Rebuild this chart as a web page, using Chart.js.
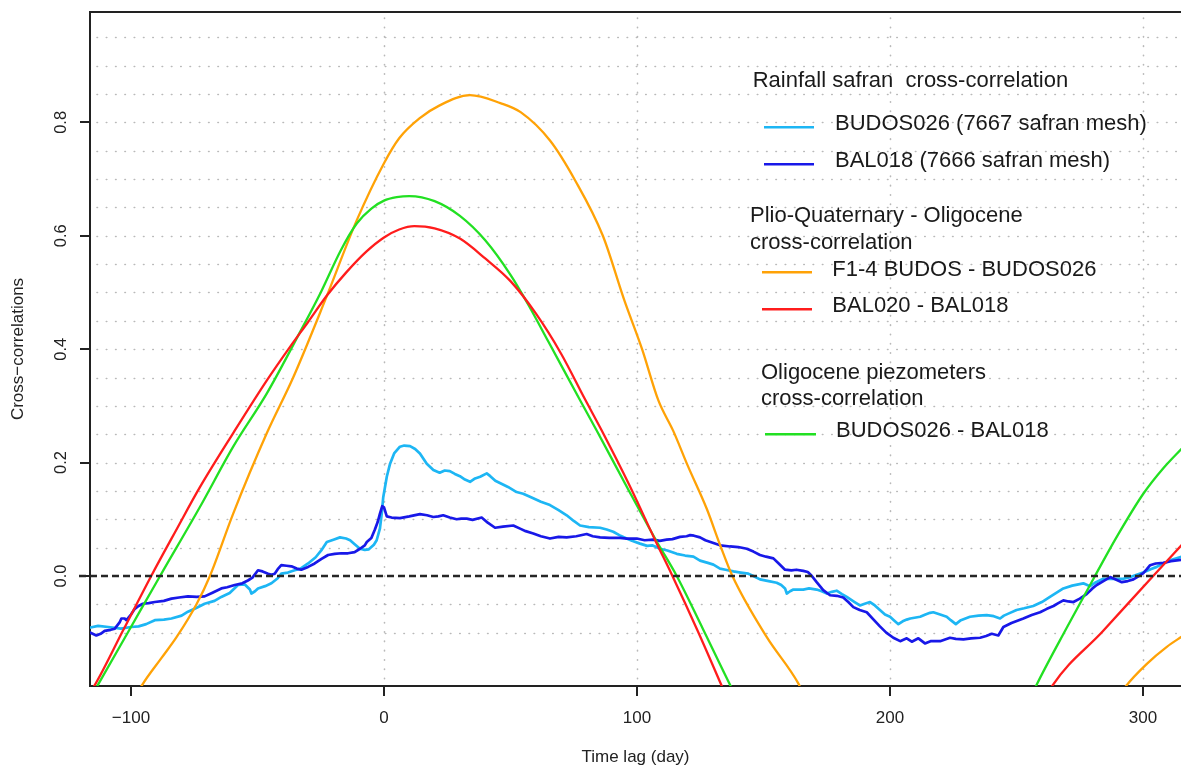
<!DOCTYPE html>
<html><head><meta charset="utf-8">
<script src="https://cdn.jsdelivr.net/npm/chart.js@4/dist/chart.umd.min.js"></script>
<style>html,body{margin:0;padding:0;background:#fff;}#wrap{width:1181px;height:769px;}</style>
</head><body><div id="wrap"><canvas id="c" width="1181" height="769"></canvas></div>
<script>
// ---------- data ----------
const xTicks = [-100, 0, 100, 200, 300];
const yTicks = [0, 0.2, 0.4, 0.6, 0.8];
const gridX = [0, 100, 200, 300];
const gridY = [-0.1, -0.05, 0.05, 0.1, 0.15, 0.2, 0.25, 0.3, 0.35, 0.4, 0.45, 0.5, 0.55, 0.6, 0.65, 0.7, 0.75, 0.8, 0.85, 0.9, 0.95];

const budosRainLag = [-116,-113,-109,-104,-100,-97,-94,-90.6,-87,-84,-80,-77.5,-74,-70.9,-67,-64.3,-61,-57.7,-55,-53,-52.4,-51,-49.8,-47,-44.5,-42,-40.6,-38,-35.3,-33,-30,-27,-24.8,-22.6,-20,-17.4,-15,-13.4,-11.6,-9.5,-7.6,-6,-4,-2.9,-1.6,-0.9,-0.3,1.1,2.4,4,6.3,8,10.3,12.3,14.2,16.9,19.5,22,24,26,28,30,32,34,36,38,40.6,42,44,45.8,49,52.4,55,59,62,65.6,69,72.2,75,77.5,81,85.4,88,90.6,93,95.9,98,101.2,104,106,109.1,112,115.7,119,122.3,124.9,128,130.2,132.8,135,138.1,141,144,146,148.6,152,155.2,157,158.5,159.2,160.5,161.8,165.7,168,171,173,175,177,178.9,181,182.9,186,188.1,190,192.1,194,196,198,200,201.5,203.3,205,206.6,208,211.9,214,215.8,217.1,219.8,222.4,224,226,228,231.6,235,238.2,241,243.5,245,247,250,253,256.6,260,263.2,266,268.5,272,276.4,279,281,284.3,288,292.2,295,297.5,300,303,305.4,308,311,316];
const budosRainVal = [-0.091,-0.088,-0.09,-0.093,-0.09,-0.089,-0.085,-0.078,-0.077,-0.075,-0.07,-0.063,-0.056,-0.049,-0.044,-0.037,-0.03,-0.016,-0.015,-0.024,-0.031,-0.027,-0.022,-0.018,-0.013,-0.004,0.004,0.006,0.01,0.013,0.022,0.033,0.045,0.06,0.064,0.068,0.066,0.063,0.056,0.048,0.046,0.047,0.055,0.063,0.084,0.11,0.139,0.175,0.198,0.216,0.228,0.23,0.229,0.224,0.216,0.198,0.187,0.182,0.186,0.185,0.18,0.176,0.17,0.166,0.172,0.175,0.181,0.176,0.168,0.164,0.157,0.148,0.145,0.137,0.131,0.125,0.116,0.107,0.097,0.089,0.086,0.085,0.082,0.078,0.072,0.066,0.062,0.057,0.053,0.054,0.048,0.045,0.039,0.036,0.034,0.027,0.023,0.02,0.013,0.011,0.008,0.006,0.004,0.0,-0.006,-0.009,-0.012,-0.016,-0.022,-0.031,-0.027,-0.024,-0.024,-0.022,-0.024,-0.027,-0.031,-0.028,-0.026,-0.032,-0.037,-0.046,-0.052,-0.049,-0.046,-0.052,-0.06,-0.068,-0.072,-0.078,-0.085,-0.08,-0.077,-0.075,-0.072,-0.068,-0.065,-0.064,-0.068,-0.072,-0.078,-0.085,-0.078,-0.072,-0.07,-0.069,-0.071,-0.075,-0.07,-0.066,-0.06,-0.057,-0.053,-0.046,-0.037,-0.029,-0.022,-0.017,-0.013,-0.018,-0.012,-0.005,-0.005,-0.005,-0.002,0.002,0.006,0.012,0.016,0.022,0.028,0.035];

const balRainLag = [-116,-113.7,-112,-110.4,-108,-106.4,-104.5,-103.8,-102.5,-101.8,-100,-98.5,-97,-95.3,-93,-90.6,-87,-84,-81,-77.5,-74,-70.9,-68,-64.3,-62,-59,-56,-53.8,-52,-49.8,-48,-45.8,-44.5,-43.2,-42,-40.6,-38.5,-36.6,-34.5,-32.7,-30,-27.4,-24.7,-22.1,-19.5,-16.9,-14.2,-11.6,-9.5,-7.6,-6.8,-5,-3.6,-2.5,-1.6,-0.7,0,1.1,3,6.3,10,14.2,17,19.5,21.5,23.4,26,28.7,30.5,32.7,35,38.6,41,43.9,47,51.1,54,56,59,62,65.6,69,72.2,76,80.1,82.5,85.4,89,93.3,96,99.9,103,106.4,109,111.7,114,117,119.6,121,122.5,124.9,127,130.2,132.8,136.8,140,143.4,146,148.6,151,153.9,156,158.5,161,163,165.7,167.5,169.1,171,173.6,176.3,179,181.5,183.5,185.5,188,190.8,193.5,196,198.5,201.3,204,206.6,208.6,211.2,213.8,216,219.8,223.7,226,229,232,235.6,238,240.2,242.8,244.8,248,252.7,256,259.3,262,264.6,266.5,268.5,270.5,272.5,275,277.7,280,281.7,284,287,289,291.6,294,296.2,298.5,300.1,301.5,302.8,305,308,311,316];
const balRainVal = [-0.1,-0.105,-0.102,-0.097,-0.095,-0.093,-0.082,-0.075,-0.075,-0.078,-0.068,-0.058,-0.053,-0.049,-0.048,-0.046,-0.044,-0.04,-0.038,-0.036,-0.037,-0.036,-0.03,-0.022,-0.02,-0.016,-0.013,-0.008,-0.003,0.01,0.008,0.004,0.002,0.004,0.012,0.019,0.018,0.017,0.013,0.011,0.016,0.022,0.03,0.037,0.039,0.04,0.04,0.042,0.048,0.054,0.06,0.067,0.082,0.095,0.11,0.123,0.121,0.105,0.103,0.102,0.105,0.109,0.107,0.104,0.105,0.107,0.103,0.1,0.101,0.101,0.099,0.103,0.094,0.085,0.087,0.089,0.083,0.079,0.075,0.07,0.066,0.069,0.068,0.07,0.074,0.07,0.068,0.067,0.067,0.066,0.066,0.063,0.064,0.062,0.064,0.065,0.069,0.07,0.072,0.071,0.068,0.063,0.058,0.054,0.052,0.051,0.048,0.043,0.037,0.034,0.031,0.022,0.011,0.01,0.011,0.009,0.007,0.0,-0.011,-0.025,-0.034,-0.035,-0.038,-0.046,-0.055,-0.06,-0.064,-0.077,-0.089,-0.1,-0.109,-0.115,-0.11,-0.116,-0.11,-0.119,-0.115,-0.115,-0.109,-0.111,-0.112,-0.11,-0.109,-0.106,-0.102,-0.105,-0.09,-0.083,-0.075,-0.069,-0.064,-0.058,-0.053,-0.048,-0.043,-0.045,-0.046,-0.04,-0.032,-0.022,-0.016,-0.01,-0.002,-0.006,-0.011,-0.009,-0.006,0.0,0.005,0.012,0.019,0.022,0.023,0.026,0.029];

const f14Lag = [-100,-95.8,-88,-82,-74,-68.8,-59.6,-46.3,-35.9,-23.3,-10.7,0,6,14,22,34,46,54,65.6,75.5,86.5,95,102,108.4,114.4,120,127.6,132.8,137.7,151.3,163.8,168,288,293.3,301.5,309.4,316];
const f14Val = [-0.23,-0.194,-0.145,-0.108,-0.049,0,0.11,0.252,0.35,0.486,0.628,0.728,0.772,0.807,0.83,0.848,0.834,0.818,0.768,0.698,0.6,0.486,0.4,0.31,0.255,0.195,0.118,0.055,0,-0.108,-0.19,-0.23,-0.23,-0.194,-0.155,-0.125,-0.105];

const balPairLag = [-117,-114.5,-103,-92,-82,-72.7,-59.6,-46.3,-37,-30,-22.5,-15,-7,0,6,12,20,30,40,50,60,70,79.4,86,97,107.5,114,124,133.5,137,260,264.1,284,304,316];
const balPairVal = [-0.21,-0.194,-0.095,0,0.082,0.157,0.252,0.345,0.405,0.448,0.495,0.535,0.572,0.597,0.611,0.617,0.613,0.595,0.56,0.52,0.463,0.392,0.312,0.257,0.16,0.06,0,-0.097,-0.194,-0.23,-0.23,-0.194,-0.098,0,0.058];

const oligoLag = [-116,-113.3,-100,-88.5,-72.7,-59.6,-46.3,-33.2,-25,-17,-10.7,-5,0,5,10,20,30,40,50,57.2,65,77.5,84,96,107.5,115.7,126,137,140,255,257.7,270,281,290,300.1,308,316];
const oligoVal = [-0.215,-0.194,-0.09,0,0.122,0.228,0.322,0.43,0.5,0.575,0.622,0.648,0.662,0.668,0.67,0.661,0.635,0.592,0.531,0.477,0.413,0.31,0.257,0.157,0.063,0,-0.093,-0.194,-0.22,-0.22,-0.194,-0.09,0,0.072,0.145,0.19,0.228];

const COL = {lb:'#1DB6F4', db:'#1818E8', or:'#FFA206', rd:'#FF1C1C', gr:'#22E022'};
const FONT = 'Liberation Sans, Arial, Helvetica, sans-serif';
const pts = (lag, val) => lag.map((x, i) => ({x: x, y: val[i]}));

const legendItems = [
  {type:'head', text:'Rainfall safran  cross-correlation', x:752.7, y:86.7},
  {type:'item', text:'BUDOS026 (7667 safran mesh)', color:COL.lb, x0:764, x1:814, ly:127.3, tx:835, ty:130},
  {type:'item', text:'BAL018 (7666 safran mesh)', color:COL.db, x0:764, x1:814, ly:164.3, tx:835, ty:166.7},
  {type:'head', text:'Plio-Quaternary - Oligocene', x:750, y:222.3},
  {type:'head', text:'cross-correlation', x:750, y:249},
  {type:'item', text:'F1-4 BUDOS - BUDOS026', color:COL.or, x0:762, x1:812, ly:272.3, tx:832.3, ty:275.7},
  {type:'item', text:'BAL020 - BAL018', color:COL.rd, x0:762, x1:812, ly:309.3, tx:832.3, ty:312.3},
  {type:'head', text:'Oligocene piezometers', x:761, y:379},
  {type:'head', text:'cross-correlation', x:761, y:405},
  {type:'item', text:'BUDOS026 - BAL018', color:COL.gr, x0:765, x1:816, ly:434.3, tx:836, ty:436.7}
];

const decor = {
  id: 'decor',
  beforeDatasetsDraw(chart) {
    const {ctx, chartArea: a, scales: {x, y}} = chart;
    ctx.save();
    ctx.strokeStyle = '#b9b9b9';
    ctx.lineWidth = 1.6;
    ctx.lineCap = 'round';
    ctx.setLineDash([0.5, 8.8]);
    gridY.forEach(v => {
      const py = Math.round(y.getPixelForValue(v)) + 0.5;
      ctx.beginPath(); ctx.moveTo(a.left + 7, py); ctx.lineTo(a.right, py); ctx.stroke();
    });
    gridX.forEach(v => {
      const px = Math.round(x.getPixelForValue(v)) + 0.5;
      ctx.beginPath(); ctx.moveTo(px, a.top + 6); ctx.lineTo(px, a.bottom); ctx.stroke();
    });
    ctx.restore();
  },
  afterDatasetsDraw(chart) {
    const {ctx, chartArea: a, scales: {x, y}} = chart;
    ctx.save();
    // zero reference line
    ctx.strokeStyle = '#262626';
    ctx.lineWidth = 2.6;
    ctx.setLineDash([7, 4]);
    const p0 = y.getPixelForValue(0);
    ctx.beginPath(); ctx.moveTo(79, p0); ctx.lineTo(a.right, p0); ctx.stroke();
    ctx.setLineDash([]);
    // top frame
    ctx.strokeStyle = '#222';
    ctx.lineWidth = 2;
    ctx.beginPath(); ctx.moveTo(a.left - 1, a.top); ctx.lineTo(a.right, a.top); ctx.stroke();
    // rotated y tick labels
    ctx.fillStyle = '#222';
    ctx.font = '16.5px ' + FONT;
    ctx.textAlign = 'center';
    ctx.textBaseline = 'middle';
    yTicks.forEach(v => {
      ctx.save();
      ctx.translate(61, y.getPixelForValue(v));
      ctx.rotate(-Math.PI / 2);
      ctx.fillText(v.toFixed(1), 0, 0);
      ctx.restore();
    });
    // legend
    ctx.textAlign = 'left';
    ctx.textBaseline = 'alphabetic';
    ctx.font = '22px ' + FONT;
    ctx.fillStyle = '#1a1a1a';
    legendItems.forEach(it => {
      if (it.type === 'head') {
        ctx.fillText(it.text, it.x, it.y);
      } else {
        ctx.strokeStyle = it.color;
        ctx.lineWidth = 2.6;
        ctx.beginPath(); ctx.moveTo(it.x0, it.ly); ctx.lineTo(it.x1, it.ly); ctx.stroke();
        ctx.fillText(it.text, it.tx, it.ty);
      }
    });
    ctx.restore();
  }
};

const common = {pointRadius: 0, fill: false, borderJoinStyle: 'round', borderCapStyle: 'round'};
new Chart(document.getElementById('c'), {
  type: 'line',
  data: {
    datasets: [
      Object.assign({label:'BAL020 - BAL018', data: pts(balPairLag, balPairVal), borderColor: COL.rd, borderWidth: 2.3, cubicInterpolationMode: 'monotone'}, common),
      Object.assign({label:'BUDOS026 - BAL018', data: pts(oligoLag, oligoVal), borderColor: COL.gr, borderWidth: 2.3, cubicInterpolationMode: 'monotone'}, common),
      Object.assign({label:'F1-4 BUDOS - BUDOS026', data: pts(f14Lag, f14Val), borderColor: COL.or, borderWidth: 2.3, cubicInterpolationMode: 'monotone'}, common),
      Object.assign({label:'BAL018 (7666 safran mesh)', data: pts(balRainLag, balRainVal), borderColor: COL.db, borderWidth: 2.7, tension: 0}, common),
      Object.assign({label:'BUDOS026 (7667 safran mesh)', data: pts(budosRainLag, budosRainVal), borderColor: COL.lb, borderWidth: 2.7, tension: 0}, common)
    ]
  },
  options: {
    responsive: false,
    animation: false,
    devicePixelRatio: 1,
    layout: {padding: {top: 12, right: 0, left: 0, bottom: 0}},
    plugins: {legend: {display: false}, tooltip: {enabled: false}},
    scales: {
      x: {
        type: 'linear', min: -116.2, max: 315,
        afterBuildTicks: s => { s.ticks = xTicks.map(v => ({value: v})); },
        afterFit: s => { s.height = 83; s.paddingLeft = 0; s.paddingRight = 0; },
        grid: {display: true, drawOnChartArea: false, drawTicks: true, tickLength: 10, color: '#222', lineWidth: 2},
        border: {display: true, color: '#222', width: 2},
        ticks: {autoSkip: false, maxRotation: 0, minRotation: 0, padding: 12, color: '#222',
          font: {family: FONT, size: 17},
          callback: v => (v < 0 ? '\u2212' + Math.abs(v) : String(v))},
        title: {display: true, text: 'Time lag (day)', color: '#222', font: {family: FONT, size: 17}, padding: {top: 0, bottom: 1}}
      },
      y: {
        type: 'linear', min: -0.1941, max: 0.9947,
        afterBuildTicks: s => { s.ticks = yTicks.map(v => ({value: v})); },
        afterFit: s => { s.width = 90; },
        grid: {display: true, drawOnChartArea: false, drawTicks: true, tickLength: 10, color: '#222', lineWidth: 2},
        border: {display: true, color: '#222', width: 2},
        ticks: {display: false},
        title: {display: true, text: 'Cross\u2212correlations', color: '#222', font: {family: FONT, size: 17}, padding: {top: 8, bottom: 0}}
      }
    }
  },
  plugins: [decor]
});
</script>
</body></html>
